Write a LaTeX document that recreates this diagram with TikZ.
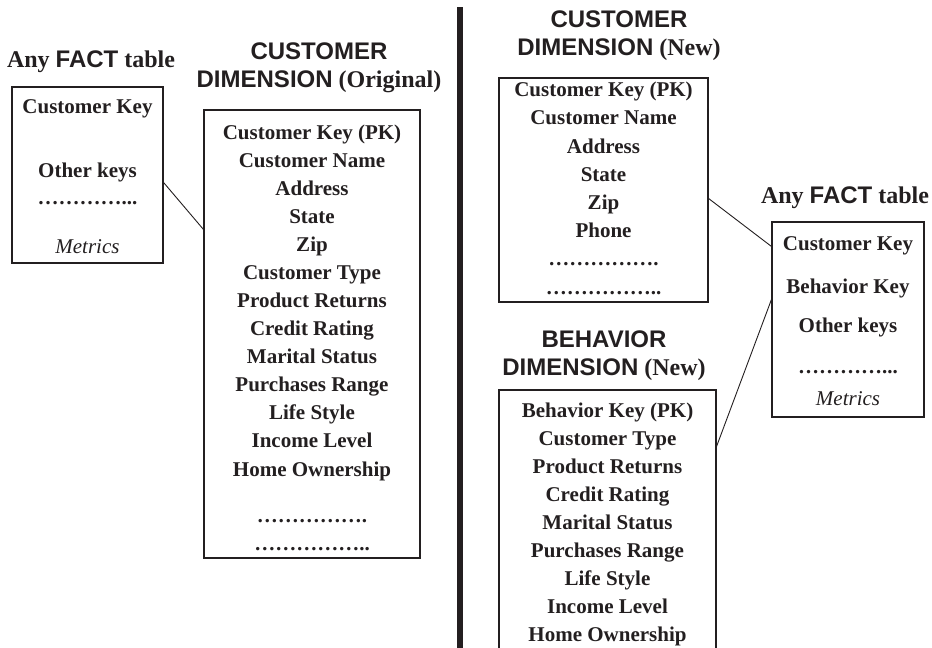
\documentclass[tikz,border=0pt]{standalone}
\usepackage{fontspec}
\setmainfont{Liberation Serif}
\setsansfont{Liberation Sans}
\definecolor{ink}{HTML}{231F20}
\begin{document}
\begin{tikzpicture}[x=1pt,y={(0pt,-1pt)},
  box/.style={draw=ink, line width=1.1pt, inner sep=0pt},
  row/.style={anchor=base, inner sep=0pt, font=\fontsize{21}{28}\selectfont\bfseries, text=ink},
  mrow/.style={anchor=base, inner sep=0pt, font=\fontsize{21}{28}\selectfont\itshape, text=ink},
  head/.style={anchor=base, inner sep=0pt, font=\fontsize{24}{28}\selectfont\bfseries, text=ink},
  link/.style={draw=ink, line width=0.9pt}]
\useasboundingbox (0,0) rectangle (932,648);
\clip (0,0) rectangle (932,648);

% ---------- left: fact table ----------
\node[head] (lfh) at (91,67) {Any \textsf{FACT} table};
\node[box, minimum width=151pt, minimum height=176pt] (lfact) at (87.5,175) {};
\node[row] (lf1) at (87.5,113) {Customer Key};
\node[row] (lf2) at (87.5,177) {Other keys};
\node[row] (lf3) at (87.5,204) {…………...};
\node[mrow] (lf4) at (87.5,253) {Metrics};

% ---------- left: customer dimension (original) ----------
\node[head] (ldh1) at (319,59) {\textsf{CUSTOMER}};
\node[head] (ldh2) at (319,87) {\textsf{DIMENSION} (Original)};
\node[box, minimum width=216pt, minimum height=448pt] (ldim) at (312,334) {};
\node[row] (ld1) at (312,139) {Customer Key (PK)};
\node[row] (ld2) at (312,167) {Customer Name};
\node[row] (ld3) at (312,195) {Address};
\node[row] (ld4) at (312,223) {State};
\node[row] (ld5) at (312,251) {Zip};
\node[row] (ld6) at (312,279) {Customer Type};
\node[row] (ld7) at (312,307) {Product Returns};
\node[row] (ld8) at (312,335) {Credit Rating};
\node[row] (ld9) at (312,363) {Marital Status};
\node[row] (ld10) at (312,391) {Purchases Range};
\node[row] (ld11) at (312,419) {Life Style};
\node[row] (ld12) at (312,447) {Income Level};
\node[row] (ld13) at (312,476) {Home Ownership};
\node[row] (ld14) at (312,522) {…………….};
\node[row] (ld15) at (312,550) {……………..};

\draw[link] ([yshift=-96pt]lfact.north east) -- ([yshift=-120pt]ldim.north west);

% ---------- separator ----------
\fill[ink] (457,7) rectangle (463,650);

% ---------- right: customer dimension (new) ----------
\node[head] (rdh1) at (619,27) {\textsf{CUSTOMER}};
\node[head] (rdh2) at (619,55) {\textsf{DIMENSION} (New)};
\node[box, minimum width=209pt, minimum height=224pt] (rdim) at (603.5,190) {};
\node[row] (rd1) at (603.5,96) {Customer Key (PK)};
\node[row] (rd2) at (603.5,124) {Customer Name};
\node[row] (rd3) at (603.5,153) {Address};
\node[row] (rd4) at (603.5,181) {State};
\node[row] (rd5) at (603.5,209) {Zip};
\node[row] (rd6) at (603.5,237) {Phone};
\node[row] (rd7) at (603.5,265) {…………….};
\node[row] (rd8) at (603.5,294) {……………..};

% ---------- right: behavior dimension (new) ----------
\node[head] (bdh1) at (604,347) {\textsf{BEHAVIOR}};
\node[head] (bdh2) at (604,375) {\textsf{DIMENSION} (New)};
\node[box, minimum width=217pt, minimum height=270pt] (bdim) at (607.5,525) {};
\node[row] (bd1) at (607.5,417) {Behavior Key (PK)};
\node[row] (bd2) at (607.5,445) {Customer Type};
\node[row] (bd3) at (607.5,473) {Product Returns};
\node[row] (bd4) at (607.5,501) {Credit Rating};
\node[row] (bd5) at (607.5,529) {Marital Status};
\node[row] (bd6) at (607.5,557) {Purchases Range};
\node[row] (bd7) at (607.5,585) {Life Style};
\node[row] (bd8) at (607.5,613) {Income Level};
\node[row] (bd9) at (607.5,641) {Home Ownership};

% ---------- right: fact table ----------
\node[head] (rfh) at (845,203) {Any \textsf{FACT} table};
\node[box, minimum width=152pt, minimum height=195pt] (rfact) at (848,319.5) {};
\node[row] (rf1) at (848,250) {Customer Key};
\node[row] (rf2) at (848,293) {Behavior Key};
\node[row] (rf3) at (848,332) {Other keys};
\node[row] (rf4) at (848,373) {…………...};
\node[mrow] (rf5) at (848,405) {Metrics};

\draw[link] ([yshift=-121pt]rdim.north east) -- ([yshift=-25pt]rfact.north west);
\draw[link] ([yshift=-57pt]bdim.north east) -- ([yshift=-78pt]rfact.north west);
\end{tikzpicture}
\end{document}
